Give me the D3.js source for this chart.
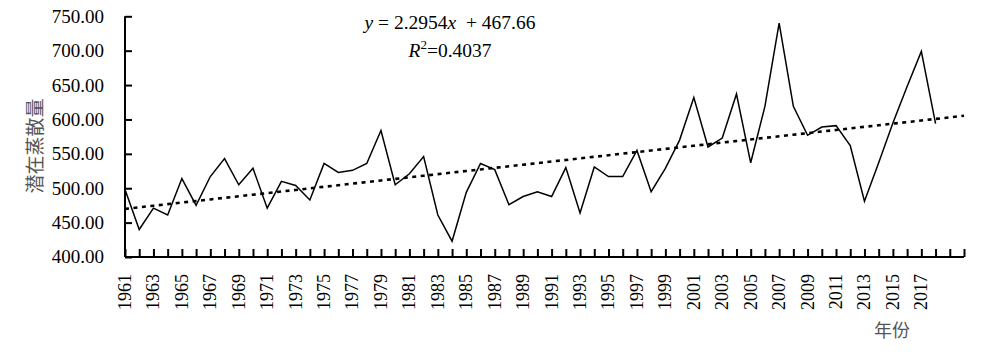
<!DOCTYPE html>
<html><head><meta charset="utf-8">
<script src="https://cdn.jsdelivr.net/npm/d3@7/dist/d3.min.js"></script>
<style>html,body{margin:0;padding:0;background:#fff;}svg{display:block;}
.serif{font-family:"Liberation Serif","Times New Roman","DejaVu Serif",serif;}
.cjk{font-family:"Noto Sans CJK SC",sans-serif;}
.pre{white-space:pre;}</style>
</head><body><svg id="c" width="981" height="357"></svg>
<script>
const years = [1961,1962,1963,1964,1965,1966,1967,1968,1969,1970,1971,1972,1973,1974,1975,1976,1977,1978,1979,1980,
1981,1982,1983,1984,1985,1986,1987,1988,1989,1990,1991,1992,1993,1994,1995,1996,1997,1998,1999,2000,
2001,2002,2003,2004,2005,2006,2007,2008,2009,2010,2011,2012,2013,2014,2015,2016,2017,2018,2019,2020];
const et0 = [498,440,471,461,514,475,517,543,505,529,471,510,504,483,536,523,526,536,584,505,
521,546,461,423,494,536,527,476,488,495,488,530,464,531,517,517,555,495,529,570,
632,560,573,637,537,619,740,619,577,589,591,562,481,537,595,648,699,594];
const tickLabels = ["1961","1963","1965","1967","1969","1971","1973","1975","1977","1979","1981","1983","1985","1987",
"1989","1991","1993","1995","1997","1999","2001","2003","2005","2007","2009","2011","2013","2015","2017"];
const yTicks = [400,450,500,550,600,650,700,750];
const trendSlope = 2.2954, trendIntercept = 467.66;
const yTitle = "潜在蒸散量", xTitle = "年份";

const svg = d3.select("#c");
const x = d3.scalePoint().domain(years).range([125, 964]);
const y = d3.scaleLinear().domain([400, 750]).range([257, 16.3]);

// y axis
const ya = svg.append("g").attr("transform","translate(125,0)")
  .call(d3.axisRight(y).tickValues(yTicks).tickSize(7).tickFormat(""));
ya.select(".domain").attr("d", `M0,${y(750)}V${y(400)}`);
ya.selectAll("line,path").attr("stroke","#000").attr("stroke-width",2);
svg.append("g").selectAll("text").data(yTicks).join("text").attr("class","serif")
  .attr("x",104).attr("y",d=>y(d)).attr("dy","0.34em").attr("text-anchor","end")
  .attr("font-size",19).attr("fill","#000")
  .text(d=>d3.format(".2f")(d));

// x axis
const xa = svg.append("g").attr("transform","translate(0,257)")
  .call(d3.axisTop(x).tickSize(8).tickFormat(""));
xa.select(".domain").attr("d", `M${x(1961)},0H${x(2020)}`);
xa.selectAll("line,path").attr("stroke","#000").attr("stroke-width",2);
svg.append("g").selectAll("text").data(tickLabels).join("text").attr("class","serif")
  .attr("transform",d=>`translate(${x(+d)},274) rotate(-90)`)
  .attr("text-anchor","end").attr("dy","0.33em")
  .attr("font-size",18).attr("fill","#000")
  .text(d=>d);

// trendline
const trend = years.map((yr,i)=>({yr, v: trendSlope*(i+1)+trendIntercept}));
svg.append("path").datum(trend)
  .attr("d", d3.line().x(d=>x(d.yr)).y(d=>y(d.v)))
  .attr("fill","none").attr("stroke","#000").attr("stroke-width",2.6)
  .attr("stroke-dasharray","4,4.5");

// data line
svg.append("path").datum(et0.map((v,i)=>({yr:years[i], v})))
  .attr("d", d3.line().x(d=>x(d.yr)).y(d=>y(d.v)))
  .attr("fill","none").attr("stroke","#000").attr("stroke-width",1.5).attr("stroke-linejoin","miter");

// equation
const eq = svg.append("text").attr("class","serif pre").attr("x",450).attr("y",29).attr("text-anchor","middle")
  .attr("font-size",19.5).attr("fill","#000");
eq.append("tspan").attr("font-style","italic").text("y");
eq.append("tspan").text(" = 2.2954");
eq.append("tspan").attr("font-style","italic").text("x");
eq.append("tspan").text("  + 467.66");
const r2 = svg.append("text").attr("class","serif").attr("x",450).attr("y",57).attr("text-anchor","middle")
  .attr("font-size",19.5).attr("fill","#000");
r2.append("tspan").attr("font-style","italic").text("R");
r2.append("tspan").attr("dy",-8).attr("font-size",13).text("2");
r2.append("tspan").attr("dy",8).text("=0.4037");

// axis titles
svg.append("text").attr("class","cjk").attr("transform","translate(35,146) rotate(-90)")
  .attr("text-anchor","middle").attr("dy","0.35em")
  .attr("font-size",19).attr("fill","#555")
  .text(yTitle);
svg.append("text").attr("class","cjk").attr("x",892).attr("y",337).attr("text-anchor","middle")
  .attr("font-size",18).attr("fill","#555")
  .text(xTitle);
</script></body></html>
